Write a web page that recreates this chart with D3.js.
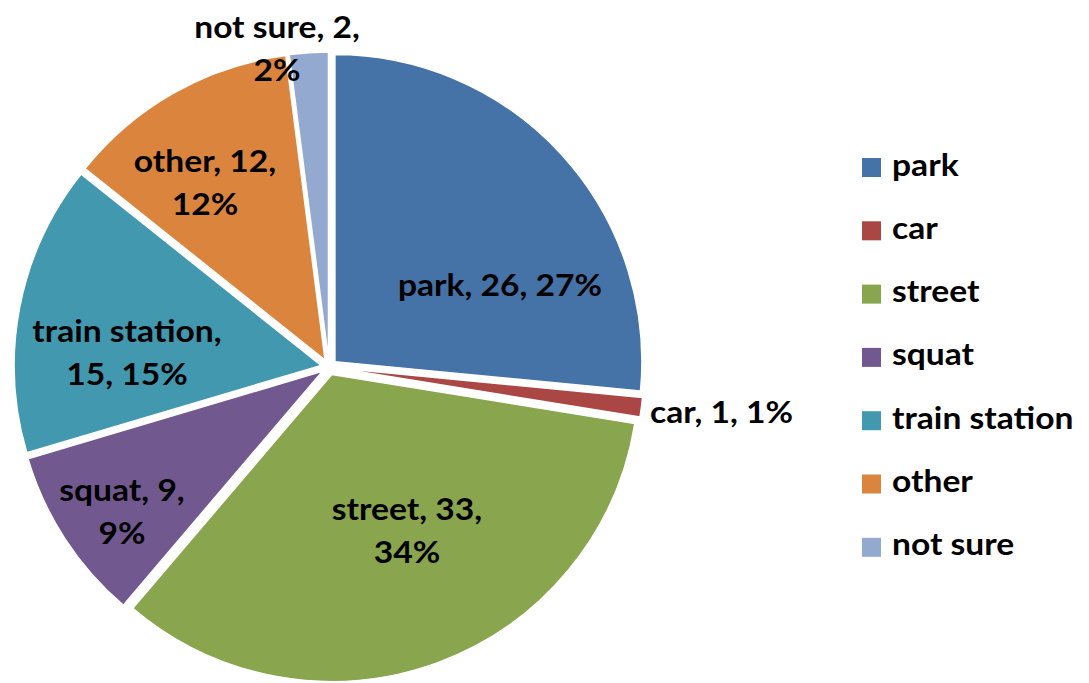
<!DOCTYPE html>
<html>
<head>
<meta charset="utf-8">
<script src="https://cdn.jsdelivr.net/npm/d3@7"></script>
<style>
  html, body { margin: 0; padding: 0; background: #fff; }
  svg text { font-family: Lato, "Open Sans", sans-serif; font-weight: 700; fill: #000; }
</style>
</head>
<body>
<svg id="chart" width="1089" height="683"></svg>
<script>
// Where the respondents slept
const categories = ["park", "car", "street", "squat", "train station", "other", "not sure"];
const counts = [26, 1, 33, 9, 15, 12, 2];
const colors = ["#4572A7", "#AA4643", "#89A54E", "#71588F", "#4198AF", "#DB843D", "#93A9CF"];

// Label placement for each slice, relative to the pie centre:
// dx/dy = anchor (dy is the middle between the baselines), split = words on line one.
const labelLayout = [
  { dx: 171, dy: -71, split: 0, anchor: "middle" },
  { dx: 321, dy: 56, split: 0, anchor: "start" },
  { dx: 78, dy: 174.5, split: 2, anchor: "middle" },
  { dx: -207, dy: 155, split: 2, anchor: "middle" },
  { dx: -202, dy: -3.5, split: 2, anchor: "middle" },
  { dx: -124, dy: -174, split: 2, anchor: "middle" },
  { dx: -52, dy: -308, split: 3, anchor: "middle" }
];

const svg = d3.select("#chart");
const cx = 329, cy = 367, radius = 307, explode = 8;
const fontSize = 30, lineH = 43, stretch = 1.12;

const total = d3.sum(counts);
const slices = d3.pie().sort(null).value(d => d)(counts);
const arc = d3.arc().innerRadius(0).outerRadius(radius);

const g = svg.append("g").attr("transform", `translate(${cx},${cy})`);

g.selectAll("path.slice")
  .data(slices)
  .join("path")
  .attr("class", "slice")
  .attr("d", arc)
  .attr("fill", (d, i) => colors[i])
  .attr("stroke", "#fff")
  .attr("stroke-width", 1.5)
  .attr("transform", d => {
    const m = (d.startAngle + d.endAngle) / 2;
    return `translate(${Math.sin(m) * explode},${-Math.cos(m) * explode})`;
  });

// Data labels: "name, value, percent"
slices.forEach((d, i) => {
  const L = labelLayout[i];
  const pct = Math.round(d.value / total * 100) + "%";
  const full = `${categories[i]}, ${d.value}, ${pct}`;
  let lines;
  if (L.split === 0) {
    lines = [full];
  } else {
    const words = full.split(" ");
    lines = [words.slice(0, L.split).join(" "), words.slice(L.split).join(" ")];
  }
  const t = g.append("text")
    .attr("text-anchor", L.anchor)
    .attr("transform", `translate(${L.dx},${L.dy}) scale(${stretch},1)`)
    .style("font-size", fontSize + "px");
  lines.forEach((ln, k) => {
    t.append("tspan")
      .attr("x", 0)
      .attr("y", (k - (lines.length - 1) / 2) * lineH)
      .text(ln);
  });
});

// Legend
const legend = svg.append("g").attr("transform", "translate(862,167.5)");
const item = legend.selectAll("g")
  .data(categories)
  .join("g")
  .attr("transform", (d, i) => `translate(0,${i * 63.3})`);
item.append("rect")
  .attr("x", 0).attr("y", -9.5)
  .attr("width", 19).attr("height", 19)
  .attr("fill", (d, i) => colors[i]);
item.append("text")
  .attr("transform", `translate(30,8) scale(${stretch},1)`)
  .style("font-size", fontSize + "px")
  .text(d => d);
</script>
</body>
</html>
